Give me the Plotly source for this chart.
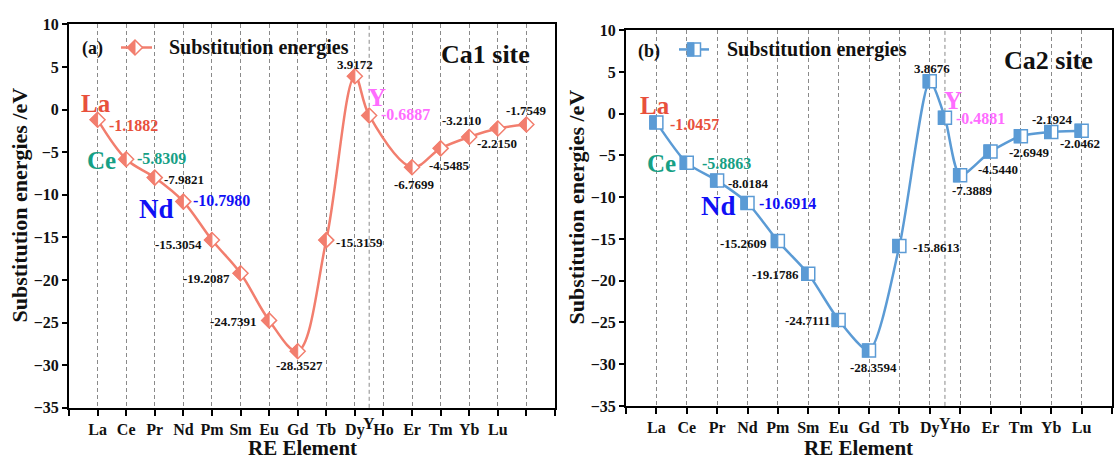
import plotly.graph_objects as go

# ---------------- data ----------------
x_labels = ['La', 'Ce', 'Pr', 'Nd', 'Pm', 'Sm', 'Eu', 'Gd', 'Tb', 'Dy', 'Ho', 'Er', 'Tm', 'Yb', 'Lu']
x_label_pos = [1, 2, 3, 4, 5, 6, 7, 8, 9, 10, 11, 12, 13, 14, 15]
y_label = 'Y'
y_label_pos = 10.5

point_elems = ['La', 'Ce', 'Pr', 'Nd', 'Pm', 'Sm', 'Eu', 'Gd', 'Tb', 'Dy', 'Y', 'Ho', 'Er', 'Tm', 'Yb', 'Lu']

ca1_x = [1, 2, 3, 4, 5, 6, 7, 8, 9, 10, 10.5, 12, 13, 14, 15, 16]
ca1_e = [-1.1882, -5.8309, -7.9821, -10.7980, -15.3054, -19.2087, -24.7391, -28.3527,
         -15.3159, 3.9172, -0.6887, -6.7699, -4.5485, -3.2110, -2.2150, -1.7549]

ca2_x = [1, 2, 3, 4, 5, 6, 7, 8, 9, 10, 10.5, 11, 12, 13, 14, 15]
ca2_e = [-1.0457, -5.8863, -8.0184, -10.6914, -15.2609, -19.1786, -24.7111, -28.3594,
         -15.8613, 3.8676, -0.4881, -7.3889, -4.5440, -2.6949, -2.1924, -2.0462]

y_ticks = [-35, -30, -25, -20, -15, -10, -5, 0, 5, 10]

# ---------------- styles ----------------
W, H = 1115, 465
FONT = 'Liberation Serif'
SALMON = '#F27E6E'
BLUE = '#5B9BD5'
hl_colors = {'La': '#E8503C', 'Ce': '#16A085', 'Nd': '#1010F5', 'Y': '#FF6CFF'}
hl_sizes = {'La': 25, 'Ce': 25, 'Nd': 27, 'Y': 25}

# value label placement (xanchor, xshift px, yshift px)
ca1_lab = [('left', 9, -6), ('left', 9, 1), ('left', 7, -2), ('left', 8, 1),
           ('right', -8, -4), ('right', -9, -5), ('right', -10, -1), ('center', 2, -14),
           ('left', 8, -2), ('center', 0, 12), ('left', 10, 1), ('center', 2, -17),
           ('center', 9, -17), ('center', -8, 16), ('center', -1, -15), ('center', 0, 14)]
ca2_lab = [('left', 12, -2), ('left', 13, -1), ('left', 9, -3), ('left', 9, -1),
           ('right', -9, -2), ('right', -7, -1), ('right', -7, -1), ('center', 4, -17),
           ('left', 12, -1), ('center', 2, 13), ('left', 9, -1), ('center', 12, -15),
           ('center', 7, -18), ('center', 9, -16), ('center', 1, 12), ('center', -2, -13)]
# element name placement (xshift, yshift)
ca1_name = {'La': (-2, 16), 'Ce': (-25, -1), 'Nd': (-27, -7), 'Y': (8, 18)}
ca2_name = {'La': (-1, 17), 'Ce': (-25, -1), 'Nd': (-29, -3), 'Y': (8, 17)}


def px_x(p):
    return p / W


def px_y(p):
    return 1 - p / H


panels = [
    dict(xs=ca1_x, es=ca1_e, lab=ca1_lab, names=ca1_name, color=SALMON, marker='diamond',
         xa='x', ya='y', xr=[0, 17], ngrid=17, dom_x=(69, 555), dom_y=(17, 415), smooth=1.0,
         tag='(a)', site='Ca1 site', tag_xy=(92, 42), leg_line=(121, 152, 41), leg_mark=135,
         leg_text=167, site_xy=(485, 48), ytitle_xy=(20, 205), xtitle_xy=(302, 457)),
    dict(xs=ca2_x, es=ca2_e, lab=ca2_lab, names=ca2_name, color=BLUE, marker='square',
         xa='x2', ya='y2', xr=[0, 16], ngrid=16, dom_x=(626, 1112), dom_y=(23, 413), smooth=0.7,
         tag='(b)', site='Ca2 site', tag_xy=(649, 45), leg_line=(679, 709, 43), leg_mark=694,
         leg_text=725, site_xy=(1048, 55), ytitle_xy=(576, 207), xtitle_xy=(858, 457)),
]

DIAM_H = 7.5
SQ_H = 6.5


def outline_path(kind):
    if kind == 'diamond':
        h = DIAM_H
        return f'M {h} 0 L 0 {h} L {-h} 0 L 0 {-h} Z'
    h = SQ_H
    return f'M {-h} {-h} H {h} V {h} H {-h} Z'


def half_path(kind):
    if kind == 'diamond':
        h = DIAM_H
        return f'M 0 {h} L {-h} 0 L 0 {-h} Z'
    h = SQ_H
    return f'M {-h} {-h} H 0 V {h} H {-h} Z'


fig = go.Figure()
shapes = []
annotations = []
layout_axes = {}

for i, p in enumerate(panels):
    sfx = '' if i == 0 else '2'
    c = p['color']
    fig.add_trace(go.Scatter(
        x=p['xs'], y=p['es'], xaxis=p['xa'], yaxis=p['ya'], mode='lines+markers',
        name='Substitution energies', showlegend=False,
        line=dict(color=c, width=2.5, shape='spline', smoothing=p['smooth']),
        marker=dict(symbol=p['marker'], size=11.5 if p['marker'] == 'diamond' else 13,
                    color='white', line=dict(color=c, width=1.5)),
        hoverinfo='x+y'))

    # half-filled markers
    for xv, ev in zip(p['xs'], p['es']):
        shapes.append(dict(type='path', xref=p['xa'], yref=p['ya'], xsizemode='pixel',
                           ysizemode='pixel', xanchor=xv, yanchor=ev, path=half_path(p['marker']),
                           fillcolor=c, line=dict(color=c, width=1), layer='above'))

    # extra dashed line for Y position
    shapes.append(dict(type='line', xref=p['xa'], yref=p['ya'] + ' domain', x0=y_label_pos,
                       x1=y_label_pos, y0=0, y1=1, line=dict(color='#8a8a8a', width=1, dash='4px,3px'),
                       layer='below'))

    # value labels and element names
    for el, xv, ev, (xa_, xs_, ys_) in zip(point_elems, p['xs'], p['es'], p['lab']):
        col = hl_colors.get(el, '#111111')
        big = el in hl_colors
        annotations.append(dict(
            x=xv, y=ev, xref=p['xa'], yref=p['ya'], text=f'{ev:.4f}', showarrow=False,
            xanchor=xa_, yanchor='middle', xshift=xs_, yshift=ys_,
            font=dict(family=FONT, size=16 if big else 13, color=col, weight='bold')))
        if el in p['names']:
            dx, dy = p['names'][el]
            annotations.append(dict(
                x=xv, y=ev, xref=p['xa'], yref=p['ya'], text=el, showarrow=False,
                xanchor='center', yanchor='middle', xshift=dx, yshift=dy,
                font=dict(family=FONT, size=hl_sizes[el], color=col, weight='bold')))

    # raised Y tick label
    annotations.append(dict(x=y_label_pos, y=px_y(431), xref=p['xa'], yref='paper', text=y_label,
                            showarrow=False, xanchor='center', yanchor='middle',
                            font=dict(family=FONT, size=16, color='#111111', weight='bold')))

    # legend (manual, to show the half-filled marker)
    lx0, lx1, ly = p['leg_line']
    shapes.append(dict(type='line', xref='paper', yref='paper', x0=px_x(lx0), x1=px_x(lx1),
                       y0=px_y(ly), y1=px_y(ly), line=dict(color=c, width=2.5), layer='above'))
    shapes.append(dict(type='path', xref='paper', yref='paper', xsizemode='pixel', ysizemode='pixel',
                       xanchor=px_x(p['leg_mark']), yanchor=px_y(ly), path=outline_path(p['marker']),
                       fillcolor='white', line=dict(color=c, width=1.5), layer='above'))
    shapes.append(dict(type='path', xref='paper', yref='paper', xsizemode='pixel', ysizemode='pixel',
                       xanchor=px_x(p['leg_mark']), yanchor=px_y(ly), path=half_path(p['marker']),
                       fillcolor=c, line=dict(color=c, width=1), layer='above'))
    annotations.append(dict(x=px_x(p['leg_text']), y=px_y(ly), xref='paper', yref='paper',
                            text='Substitution energies', showarrow=False, xanchor='left',
                            yanchor='middle',
                            font=dict(family=FONT, size=20, color='#111111', weight='bold')))
    annotations.append(dict(x=px_x(p['tag_xy'][0]), y=px_y(p['tag_xy'][1]), xref='paper', yref='paper',
                            text=p['tag'], showarrow=False, xanchor='center', yanchor='middle',
                            font=dict(family=FONT, size=18, color='#111111', weight='bold')))
    annotations.append(dict(x=px_x(p['site_xy'][0]), y=px_y(p['site_xy'][1]), xref='paper', yref='paper',
                            text=p['site'], showarrow=False, xanchor='center', yanchor='middle',
                            font=dict(family=FONT, size=26, color='#111111', weight='bold')))
    # axis titles
    annotations.append(dict(x=px_x(p['ytitle_xy'][0]), y=px_y(p['ytitle_xy'][1]), xref='paper',
                            yref='paper', text='Substitution energies /eV', textangle=-90,
                            showarrow=False, xanchor='center', yanchor='middle',
                            font=dict(family=FONT, size=22, color='#111111', weight='bold')))
    annotations.append(dict(x=px_x(p['xtitle_xy'][0]), y=px_y(p['xtitle_xy'][1]), xref='paper',
                            yref='paper', text='RE Element', showarrow=False, xanchor='center',
                            yanchor='middle',
                            font=dict(family=FONT, size=21, color='#111111', weight='bold')))

    tickvals = list(range(0, p['ngrid'] + 1))
    ticktext = [x_labels[x_label_pos.index(v)] if v in x_label_pos else '' for v in tickvals]
    layout_axes['xaxis' + sfx] = dict(
        domain=[px_x(p['dom_x'][0]), px_x(p['dom_x'][1])], range=p['xr'], anchor=p['ya'],
        tickmode='array', tickvals=tickvals, ticktext=ticktext, ticks='outside', ticklen=6,
        tickwidth=2, tickcolor='black', showline=True, linewidth=2, linecolor='black', mirror=True,
        showgrid=True, gridcolor='#8a8a8a', gridwidth=1, griddash='4px,3px', zeroline=False,
        tickfont=dict(family=FONT, size=16, color='#111111', weight='bold'), fixedrange=True)
    layout_axes['yaxis' + sfx] = dict(
        domain=[px_y(p['dom_y'][1]), px_y(p['dom_y'][0])], range=[-35, 10], anchor=p['xa'],
        tickmode='array', tickvals=y_ticks, ticks='outside', ticklen=5, tickwidth=2,
        tickcolor='black', showline=True, linewidth=2, linecolor='black', mirror=True,
        showgrid=False, zeroline=False,
        tickfont=dict(family=FONT, size=16, color='#111111', weight='bold'), fixedrange=True)

fig.update_layout(
    width=W, height=H, margin=dict(l=0, r=0, t=0, b=0),
    paper_bgcolor='white', plot_bgcolor='white', showlegend=False,
    shapes=shapes, annotations=annotations, **layout_axes)

fig.write_html('out.html')
